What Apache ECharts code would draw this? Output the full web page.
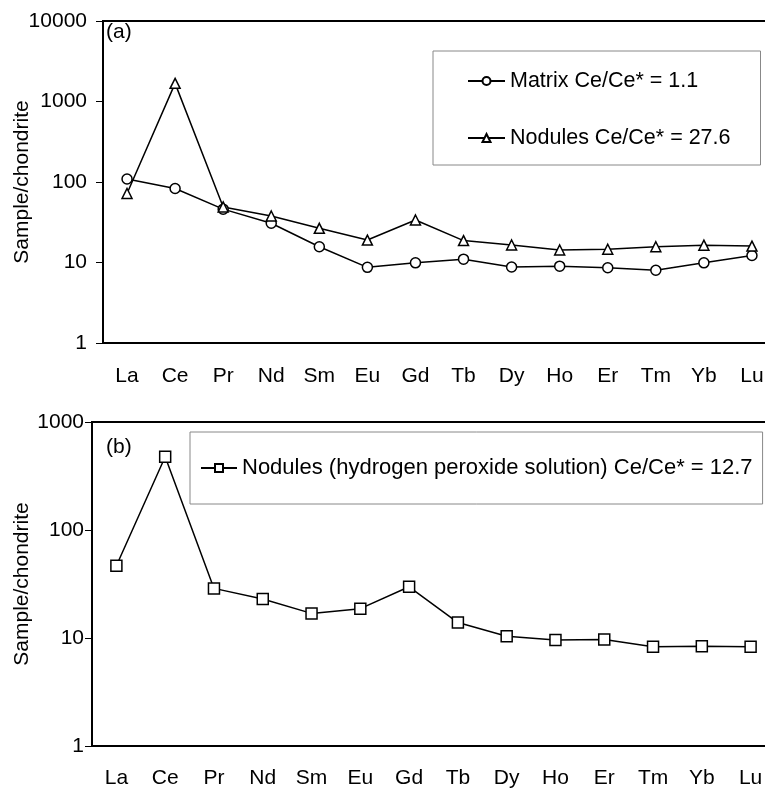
<!DOCTYPE html>
<html>
<head>
<meta charset="utf-8">
<script src="https://cdn.jsdelivr.net/npm/echarts@6/dist/echarts.min.js"></script>
<style>
  html, body { margin: 0; padding: 0; background: #fff; }
  #main { width: 765px; height: 789px; }
</style>
</head>
<body>
<div id="main"></div>
<script>
// 稀土元素 (REE) 球粒陨石标准化
var elements = ['La', 'Ce', 'Pr', 'Nd', 'Sm', 'Eu', 'Gd', 'Tb', 'Dy', 'Ho', 'Er', 'Tm', 'Yb', 'Lu'];
var matrix = [109, 83, 46, 30.7, 15.7, 8.7, 9.9, 11.0, 8.8, 9.0, 8.6, 8.0, 9.9, 12.2];
var nodules = [72, 1680, 49, 37.8, 26.6, 19, 33.7, 18.7, 16.5, 14.3, 14.6, 15.7, 16.4, 16];
var nodulesH2O2 = [46.7, 477, 28.8, 23, 16.9, 18.7, 29.8, 13.9, 10.4, 9.6, 9.7, 8.3, 8.4, 8.3];
var nameMatrix = 'Matrix Ce/Ce* = 1.1';
var nameNodules = 'Nodules Ce/Ce* = 27.6';
var nameH2O2 = 'Nodules (hydrogen peroxide solution) Ce/Ce* = 12.7';

var FONT = 'Liberation Sans';
var chart = echarts.init(document.getElementById('main'));

function xAxis(grid, margin) {
  return {
    type: 'category',
    gridIndex: grid,
    data: elements,
    boundaryGap: true,
    axisLine: { lineStyle: { color: '#000', width: 2 } },
    axisTick: { length: 6, lineStyle: { color: '#000', width: 1 } },
    axisLabel: { color: '#000', fontSize: 21, fontFamily: FONT, margin: margin, interval: 0 },
    splitLine: { show: false }
  };
}
function yAxis(grid, max, labelMargin, nameGap) {
  return {
    type: 'log',
    logBase: 10,
    gridIndex: grid,
    min: 1,
    max: max,
    name: 'Sample/chondrite',
    nameLocation: 'middle',
    nameGap: nameGap,
    nameMoveOverlap: false,
    nameTextStyle: { color: '#000', fontSize: 21, fontFamily: FONT },
    axisLine: { show: true, lineStyle: { color: '#000', width: 2 } },
    axisTick: { show: true, length: 7, lineStyle: { color: '#000', width: 1 } },
    axisLabel: {
      color: '#000', fontSize: 21, fontFamily: FONT, margin: labelMargin,
      formatter: function (v) { return String(Math.round(v)); }
    },
    minorTick: { show: false },
    splitLine: { show: false }
  };
}
function lineSeries(name, data, symbol, size, xi) {
  return {
    name: name,
    type: 'line',
    xAxisIndex: xi,
    yAxisIndex: xi,
    data: data,
    symbol: symbol,
    symbolSize: size,
    showAllSymbol: true,
    lineStyle: { color: '#000', width: 1.5 },
    itemStyle: { color: '#fff', borderColor: '#000', borderWidth: 1.5 },
    z: 3
  };
}

var option = {
  backgroundColor: '#fff',
  animation: false,
  title: [
    { text: '(a)', left: 106, top: 22, textStyle: { fontSize: 21, fontWeight: 'normal', fontFamily: FONT, color: '#000' }, padding: 0 },
    { text: '(b)', left: 106, top: 437, textStyle: { fontSize: 21, fontWeight: 'normal', fontFamily: FONT, color: '#000' }, padding: 0 }
  ],
  legend: [
    {
      data: [nameMatrix, nameNodules],
      orient: 'vertical',
      left: 433,
      top: 51,
      padding: [19, 30, 16, 34],
      itemGap: 35,
      itemWidth: 37,
      itemHeight: 10,
      borderColor: '#888',
      borderWidth: 1,
      textStyle: { color: '#000', fontSize: 21.5, fontFamily: FONT },
      selectedMode: false
    },
    {
      data: [nameH2O2],
      orient: 'vertical',
      left: 190,
      top: 432,
      padding: [25, 10, 25, 10],
      itemWidth: 36,
      itemHeight: 10,
      borderColor: '#888',
      borderWidth: 1,
      textStyle: { color: '#000', fontSize: 22, fontFamily: FONT },
      selectedMode: false
    }
  ],
  grid: [
    { left: 103, top: 21, width: 673, height: 322, show: true, borderColor: '#000', borderWidth: 2, backgroundColor: 'transparent', containLabel: false, outerBoundsMode: 'none' },
    { left: 92, top: 422, width: 683, height: 324, show: true, borderColor: '#000', borderWidth: 2, backgroundColor: 'transparent', containLabel: false, outerBoundsMode: 'none' }
  ],
  xAxis: [xAxis(0, 23), xAxis(1, 22)],
  yAxis: [yAxis(0, 10000, 16, 70), yAxis(1, 1000, 8, 59)],
  series: [
    lineSeries(nameMatrix, matrix, 'circle', 10, 0),
    lineSeries(nameNodules, nodules, 'triangle', 10, 0),
    lineSeries(nameH2O2, nodulesH2O2, 'rect', 11, 1)
  ]
};
chart.setOption(option);
</script>
</body>
</html>
